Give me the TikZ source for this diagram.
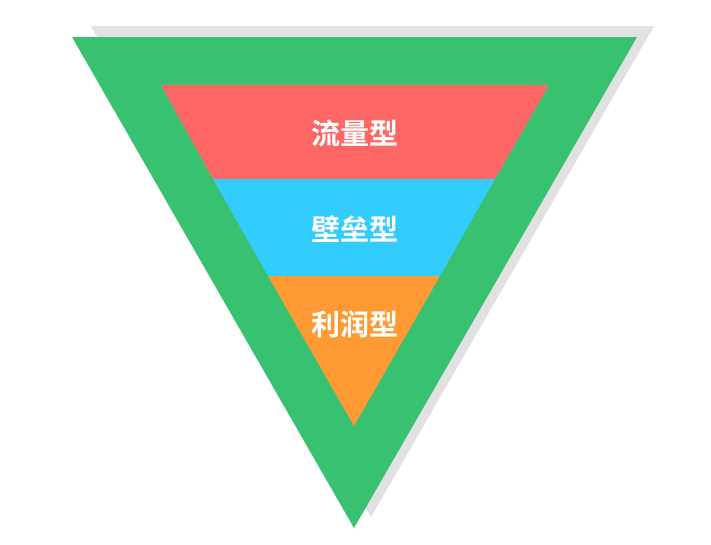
\documentclass[tikz,border=0pt]{standalone}
\usepackage{fontspec}
\newfontfamily\cjk{Noto Sans CJK SC}[BoldFont={Noto Sans CJK SC Bold}]
\definecolor{tgreen}{RGB}{56,193,112}
\definecolor{tred}{RGB}{255,102,102}
\definecolor{tblue}{RGB}{51,204,255}
\definecolor{torange}{RGB}{255,153,51}
\definecolor{tshadow}{RGB}{225,225,225}
\tikzset{
  lbl/.style={text=white,font=\cjk\bfseries\fontsize{29}{30}\selectfont,inner sep=0pt,anchor=center}
}
\begin{document}
\begin{tikzpicture}[x=1pt,y=-1pt]
\useasboundingbox (0,0) rectangle (711,544);
\fill[tshadow] (91,26) -- (654,26) -- (371,517) -- cycle;
\fill[tgreen] (72,37) -- (637,37) -- (354,528) -- cycle;
\fill[tred] (161,85) -- (549,85) -- (495,179) -- (213,179) -- cycle;
\fill[tblue] (213,179) -- (495,179) -- (440,276) -- (268,276) -- cycle;
\fill[torange] (268,276) -- (440,276) -- (354,426) -- cycle;
\node[lbl] (a) at (355,133) {流量型};
\node[lbl] (b) at (355,229) {壁垒型};
\node[lbl] (c) at (355,324) {利润型};
\end{tikzpicture}
\end{document}
